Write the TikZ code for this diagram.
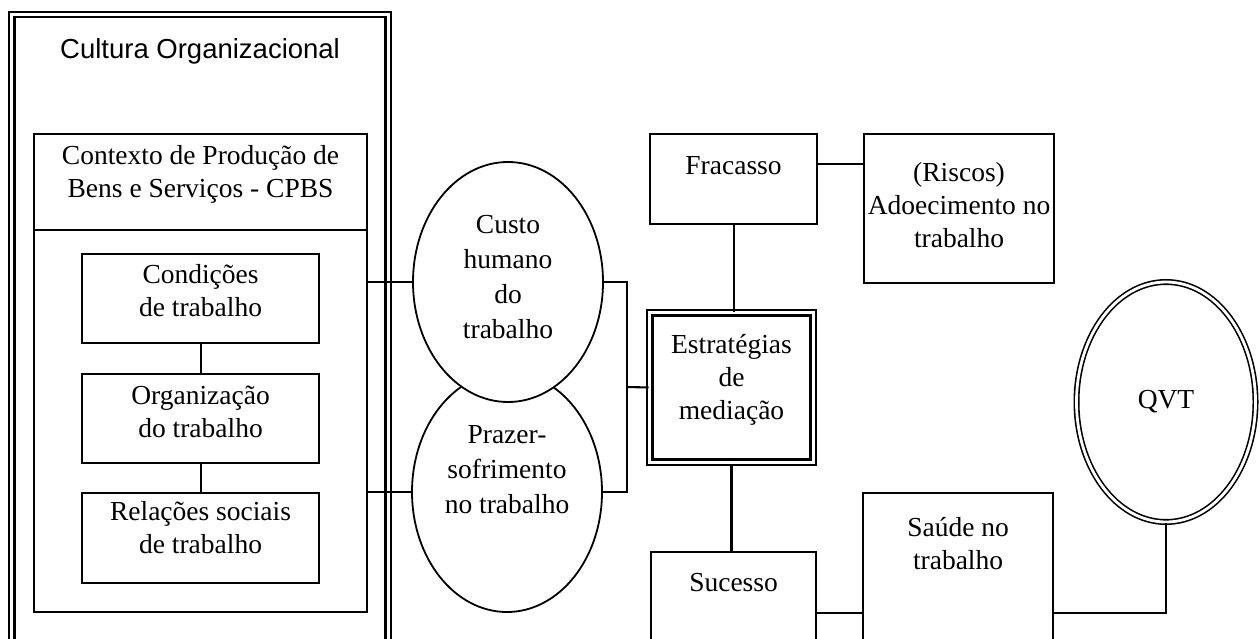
\documentclass[tikz,border=0pt]{standalone}
\usepackage{fontspec}
\setmainfont{Liberation Serif}
\newfontfamily\arialfont{Liberation Sans}
\usetikzlibrary{shapes.geometric}

% text block: width, height, first baseline from the top, lines
\newcommand{\boxtext}[4]{\parbox[c][#2][t]{#1}{\centering\rule{0pt}{#3}#4}}

\tikzset{
  box/.style={draw, line width=2.1pt, inner sep=0pt, anchor=north west, font=\fontsize{27.5}{33}\selectfont},
  oval/.style={draw, ellipse, line width=1.8pt, inner sep=0pt, font=\fontsize{27.5}{35}\selectfont},
  twoline/.style={double, double distance=3pt, line width=2.4pt},
  link/.style={line width=2.1pt}
}

\begin{document}
\begin{tikzpicture}[x=1pt, y=-1pt]
  \useasboundingbox (0,0) rectangle (1260,639);
  \clip (0,0) rectangle (1260,639);

  % Cultura organizacional
  \node[box, twoline, font=\arialfont\fontsize{27.5}{33}\selectfont] (cultura) at (10.7,13.3) {\boxtext{376.3pt}{628.7pt}{43.7pt}{Cultura Organizacional}};

  % CPBS
  \node[box, minimum width=333pt, minimum height=478pt] (cpbs) at (33,133) {};
  \node[box] (cpbshead) at (33,133) {\boxtext{333pt}{96pt}{30pt}{Contexto de Produção de\\Bens e Serviços - CPBS}};
  \node[box] (condicoes) at (81,253) {\boxtext{237pt}{89pt}{29pt}{Condições\\de trabalho}};
  \node[box] (organizacao) at (81,373) {\boxtext{237pt}{89pt}{30pt}{Organização\\do trabalho}};
  \node[box] (relacoes) at (81,492) {\boxtext{237pt}{90pt}{27pt}{Relações sociais\\de trabalho}};
  \draw[link] (condicoes) -- (organizacao);
  \draw[link] (organizacao) -- (relacoes);

  % Custo humano / prazer-sofrimento
  \node[oval, minimum width=190pt, minimum height=240pt] (prazer) at (507,492) {\boxtext{130pt}{150pt}{26pt}{Prazer-\\sofrimento\\no trabalho}};
  \node[oval, fill=white, minimum width=190pt, minimum height=240pt] (custo) at (508,282) {\boxtext{130pt}{150pt}{26pt}{Custo\\humano\\do\\trabalho}};
  \draw[link] (cpbs.east |- custo.west) -- (custo.west);
  \draw[link] (cpbs.east |- prazer.west) -- (prazer.west);
  \coordinate (junta) at (627,387);
  \draw[link] (custo.east) -| (junta) |- (prazer.east);

  % Estrategias de mediacao
  \node[box, twoline, anchor=center] (estrategias) at (731.5,387.5) {\boxtext{163.6pt}{149.6pt}{40.3pt}{Estratégias\\de\\mediação}};
  \draw[link] (junta) -- (estrategias.west);

  \node[box] (fracasso) at (649,133) {\boxtext{167pt}{90pt}{40pt}{Fracasso}};
  \node[box] (riscos) at (863,133) {\boxtext{190pt}{149pt}{47pt}{(Riscos)\\Adoecimento no\\trabalho}};
  \node[box] (sucesso) at (650,551) {\boxtext{165pt}{122pt}{39pt}{Sucesso}};
  \node[box] (saude) at (862,492) {\boxtext{190pt}{240pt}{43pt}{Saúde no\\trabalho}};
  \node[oval, twoline, line width=1.6pt, double distance=2.8pt, minimum width=179pt, minimum height=240pt] (qvt) at (1166,402) {QVT};

  \draw[link] (fracasso.south) -- (fracasso.south |- estrategias.north);
  \draw[link] (fracasso.east) ++(0,-15) coordinate (fr) -- (fr -| riscos.west);
  \draw[link] (estrategias.south) -- (estrategias.south |- sucesso.north);
  \draw[link] (sucesso.east) -- (saude.west);
  \draw[link] (saude.east) -| (qvt.south);
\end{tikzpicture}
\end{document}
